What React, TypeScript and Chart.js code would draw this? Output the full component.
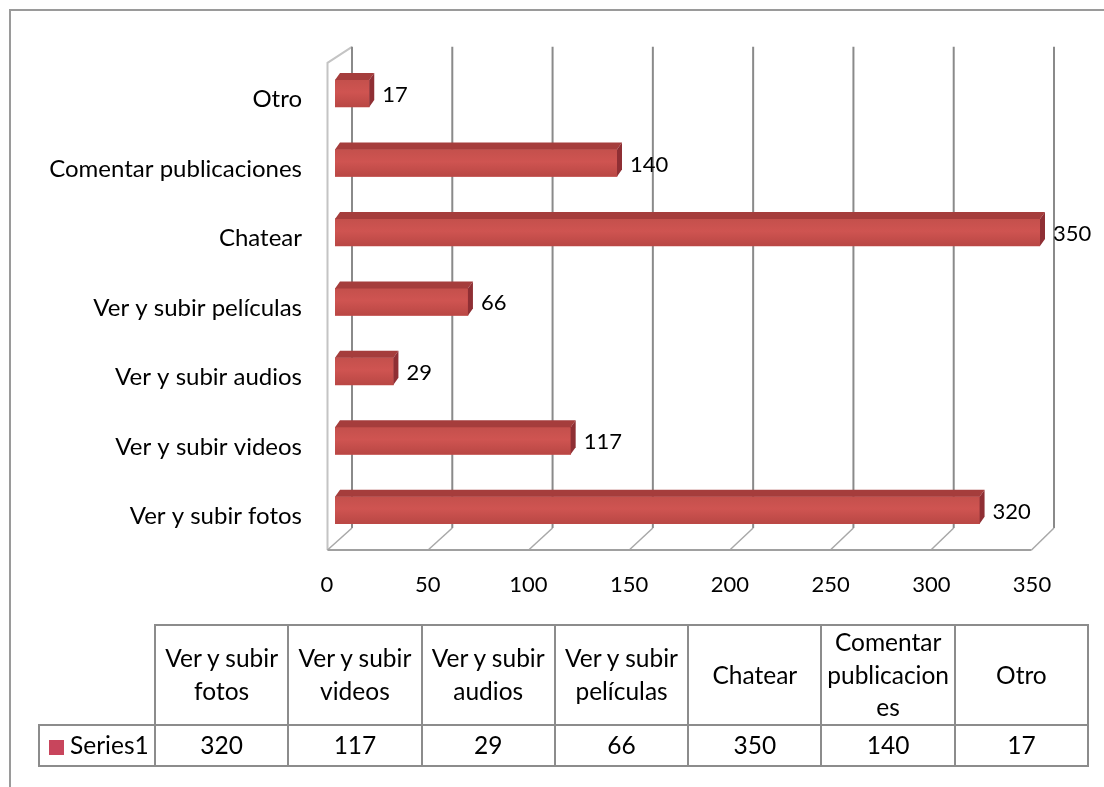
import React, { useEffect, useRef } from "react";
import { Chart, registerables } from "chart.js";

Chart.register(...registerables);

const categories = [
  "Ver y subir fotos",
  "Ver y subir videos",
  "Ver y subir audios",
  "Ver y subir películas",
  "Chatear",
  "Comentar publicaciones",
  "Otro",
];
const headerLines = [
  ["Ver y subir", "fotos"],
  ["Ver y subir", "videos"],
  ["Ver y subir", "audios"],
  ["Ver y subir", "películas"],
  ["Chatear"],
  ["Comentar", "publicacion", "es"],
  ["Otro"],
];
const seriesName = "Series1";
const values = [320, 117, 29, 66, 350, 140, 17];
const xTicks = [0, 50, 100, 150, 200, 250, 300, 350];

const FONT = "Lato, 'Open Sans', sans-serif";
const DX = 5;
const DY = -7;

const wallPlugin = {
  id: "wall3d",
  beforeDatasetsDraw(chart: any) {
    const { ctx, chartArea } = chart;
    const xs = chart.scales.x;
    const top = chartArea.top - 12;
    const bottom = chartArea.bottom - 17;
    const floorY = chartArea.bottom + 5;
    ctx.save();
    const f0 = xs.getPixelForValue(0) - 7.5;
    const b0 = xs.getPixelForValue(0) + 17;
    ctx.strokeStyle = "#c4c4c4";
    ctx.lineWidth = 2;
    ctx.beginPath();
    ctx.moveTo(f0, floorY);
    ctx.lineTo(f0, top + 16);
    ctx.lineTo(b0, top);
    ctx.stroke();
    xTicks.forEach((v) => {
      const px = xs.getPixelForValue(v);
      const bx = px + 17 - (3 * v) / 350;
      const fx = px - 7.5 - (1 * v) / 350;
      ctx.strokeStyle = "#8a8a8a";
      ctx.lineWidth = 2;
      ctx.beginPath();
      ctx.moveTo(bx, top);
      ctx.lineTo(bx, bottom);
      ctx.stroke();
      ctx.strokeStyle = "#a8a8a8";
      ctx.lineWidth = 1.5;
      ctx.beginPath();
      ctx.moveTo(bx, bottom);
      ctx.lineTo(fx, floorY);
      ctx.stroke();
    });
    ctx.strokeStyle = "#a0a0a0";
    ctx.lineWidth = 2;
    ctx.beginPath();
    ctx.moveTo(f0, floorY);
    ctx.lineTo(xs.getPixelForValue(350) - 8.5, floorY);
    ctx.stroke();
    ctx.restore();
  },
  afterDatasetsDraw(chart: any) {
    const { ctx } = chart;
    const meta = chart.getDatasetMeta(0);
    ctx.save();
    meta.data.forEach((bar: any, i: number) => {
      const { x, y, base, height } = bar.getProps(["x", "y", "base", "height"], true);
      const t = y - height / 2;
      const b = y + height / 2;
      const g = ctx.createLinearGradient(0, t, 0, b);
      g.addColorStop(0, "#c4504c");
      g.addColorStop(0.45, "#cf5451");
      g.addColorStop(1, "#b94744");
      ctx.fillStyle = g;
      ctx.fillRect(base, t, x - base, height);
      ctx.fillStyle = "#a53d3c";
      ctx.beginPath();
      ctx.moveTo(base, t);
      ctx.lineTo(base + DX, t + DY);
      ctx.lineTo(x + DX, t + DY);
      ctx.lineTo(x, t);
      ctx.closePath();
      ctx.fill();
      ctx.fillStyle = "#8f2f34";
      ctx.beginPath();
      ctx.moveTo(x, t);
      ctx.lineTo(x + DX, t + DY);
      ctx.lineTo(x + DX, b + DY);
      ctx.lineTo(x, b);
      ctx.closePath();
      ctx.fill();
      ctx.fillStyle = "#000";
      ctx.font = `22px ${FONT}`;
      ctx.textAlign = "left";
      ctx.textBaseline = "middle";
      ctx.fillText(String(values[i]), x + 13, y + 1.5);
    });
    ctx.restore();
  },
};

export default function App() {
  const ref = useRef<HTMLCanvasElement>(null);
  useEffect(() => {
    if (!ref.current) return;
    const chart = new Chart(ref.current, {
      type: "bar",
      data: {
        labels: categories,
        datasets: [
          {
            label: seriesName,
            data: values,
            backgroundColor: "#c64b48",
            barThickness: 27,
          },
        ],
      },
      options: {
        responsive: false,
        animation: false,
        indexAxis: "y",
        layout: { padding: { top: 58.8, right: 64, left: 0, bottom: 182 } },
        plugins: { legend: { display: false }, tooltip: { enabled: false } },
        scales: {
          x: {
            min: 0,
            max: 350,
            ticks: {
              stepSize: 50,
              labelOffset: -8,
              padding: 19,
              color: "#000",
              font: { family: FONT, size: 22 },
              maxRotation: 0,
              autoSkip: false,
            },
            grid: { display: false },
            border: { display: false },
            afterFit: (s: any) => {
              s.height = 60;
            },
          },
          y: {
            reverse: true,
            ticks: {
              labelOffset: 6,
              padding: 25,
              color: "#000",
              font: { family: FONT, size: 24 },
              autoSkip: false,
            },
            grid: { display: false },
            border: { display: false },
            afterFit: (s: any) => {
              s.width = 335;
            },
          },
        },
      },
      plugins: [wallPlugin],
    } as any);
    return () => chart.destroy();
  }, []);

  const colW = 133.3;
  const cellBorder = "2px solid #8c8c8c";
  const tdBase: React.CSSProperties = {
    border: cellBorder,
    textAlign: "center",
    verticalAlign: "middle",
    padding: 0,
    whiteSpace: "nowrap",
  };

  return (
    <div style={{ position: "absolute", left: 0, top: 0, width: 1104, height: 787, overflow: "hidden", background: "#fff" }}>
      <div
        style={{
          position: "absolute",
          left: 9,
          top: 9,
          width: 1200,
          height: 900,
          border: "2px solid #9a9a9a",
        }}
      />
      <canvas ref={ref} width={1104} height={787} style={{ position: "absolute", left: 0, top: 0 }} />
      <table
        style={{
          position: "absolute",
          left: 38,
          top: 624,
          borderCollapse: "collapse",
          tableLayout: "fixed",
          fontFamily: FONT,
          fontSize: 24.5,
          color: "#000",
        }}
      >
        <colgroup>
          <col style={{ width: 116 }} />
          {categories.map((c) => (
            <col key={c} style={{ width: colW }} />
          ))}
        </colgroup>
        <tbody>
          <tr style={{ height: 98 }}>
            <td style={{ padding: 0, border: "none" }}></td>
            {headerLines.map((lines, i) => (
              <td key={i} style={{ ...tdBase, lineHeight: "32.5px" }}>
                {lines.map((l, j) => (
                  <div key={j}>{l}</div>
                ))}
              </td>
            ))}
          </tr>
          <tr style={{ height: 41 }}>
            <td style={{ ...tdBase, textAlign: "left", paddingLeft: 9, lineHeight: "36px" }}>
              <span
                style={{
                  display: "inline-block",
                  width: 15,
                  height: 15,
                  background: "#c8455c",
                  marginRight: 6,
                  verticalAlign: "-1px",
                }}
              />
              {seriesName}
            </td>
            {values.map((v, i) => (
              <td key={i} style={{ ...tdBase, lineHeight: "36px" }}>
                {v}
              </td>
            ))}
          </tr>
        </tbody>
      </table>
    </div>
  );
}
